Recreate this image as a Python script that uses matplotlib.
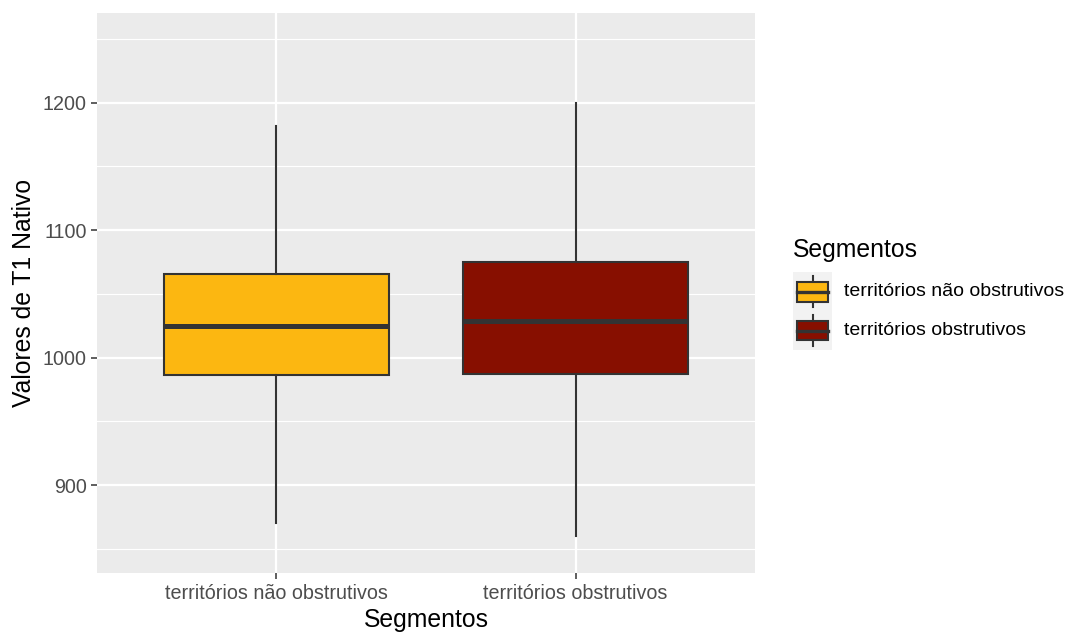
import matplotlib
matplotlib.use("Agg")
import matplotlib.pyplot as plt
from matplotlib.patches import Rectangle
from matplotlib.lines import Line2D

# ---- data ----
categories = ["territórios não obstrutivos", "territórios obstrutivos"]
whisker_low = [870.2, 860.0]
q1 = [986.3, 986.8]
median = [1024.7, 1028.9]
q3 = [1065.5, 1074.7]
whisker_high = [1181.6, 1199.6]
fill_colors = ["#FCB711", "#870F00"]
y_ticks = [900, 1000, 1100, 1200]
y_minor = [850, 950, 1050, 1150, 1250]

plt.rcParams['font.family'] = ['Liberation Sans', 'DejaVu Sans']

W, H = 1069, 633
fig = plt.figure(figsize=(W / 100, H / 100), dpi=100)
fig.patch.set_facecolor("white")

def fx(px):
    return px / W

def fy(py):
    return 1 - py / H

ax = fig.add_axes([fx(97), fy(573), fx(755) - fx(97), fy(13) - fy(573)])
ax.set_facecolor("#EBEBEB")
for s in ax.spines.values():
    s.set_visible(False)

ax.set_xlim(0.4, 2.6)
ax.set_ylim(831.0, 1270.2)

# grid
for v in y_minor:
    ax.axhline(v, color="white", lw=0.8, zorder=0.5)
for v in y_ticks:
    ax.axhline(v, color="white", lw=1.6, zorder=0.6)
for i in range(len(categories)):
    ax.axvline(i + 1, color="white", lw=1.6, zorder=0.6)

stats = []
for i, c in enumerate(categories):
    stats.append(dict(label=c, whislo=whisker_low[i], q1=q1[i], med=median[i],
                      q3=q3[i], whishi=whisker_high[i], fliers=[]))

bp = ax.bxp(stats, positions=[1, 2], widths=0.75, patch_artist=True,
            showcaps=False, showfliers=False,
            boxprops=dict(edgecolor="#333333", linewidth=1.5),
            whiskerprops=dict(color="#333333", linewidth=1.5),
            medianprops=dict(color="#333333", linewidth=3.6, solid_capstyle="butt"),
            zorder=2)
for patch, col in zip(bp["boxes"], fill_colors):
    patch.set_facecolor(col)

ax.set_xticks([1, 2])
ax.set_xticklabels(categories)
ax.set_yticks(y_ticks)
ax.set_yticklabels([str(v) for v in y_ticks])
ax.tick_params(axis="both", colors="#333333", length=4.3, width=1.1,
               labelsize=14.2, labelcolor="#4D4D4D", pad=3)
ax.tick_params(axis="x", pad=3.5)

ax.set_xlabel("Segmentos", fontsize=17.8, color="black", labelpad=4)
ax.set_ylabel("Valores de T1 Nativo", fontsize=17.8, color="black", labelpad=5)

# ---- legend (drawn manually in ggplot style) ----
fig.text(fx(793), fy(250), "Segmentos", fontsize=17.8, ha="left", va="center")
key_x0, key_x1 = 793, 832
key_tops = [272, 311]
for i, c in enumerate(categories):
    top = key_tops[i]
    fig.patches.append(Rectangle((fx(key_x0), fy(top + 39)), fx(key_x1) - fx(key_x0),
                                 fy(top) - fy(top + 39), transform=fig.transFigure,
                                 facecolor="#F2F2F2", edgecolor="none", zorder=1))
    cx = (key_x0 + key_x1) / 2
    cy = top + 19.5
    fig.lines.append(Line2D([fx(cx), fx(cx)], [fy(cy - 15.5), fy(cy + 15.5)],
                            transform=fig.transFigure, color="#333333", lw=1.5, zorder=2))
    fig.patches.append(Rectangle((fx(796.5), fy(cy + 10)), fx(828.5) - fx(796.5),
                                 fy(cy - 10) - fy(cy + 10), transform=fig.transFigure,
                                 facecolor=fill_colors[i], edgecolor="#333333", lw=1.5, zorder=3))
    fig.lines.append(Line2D([fx(796.5), fx(828.5)], [fy(cy), fy(cy)],
                            transform=fig.transFigure, color="#333333", lw=2.4, zorder=4))
    fig.text(fx(844), fy(cy), c, fontsize=14.0, ha="left", va="center", color="black")

fig.savefig("out.png", dpi=100, facecolor="white")
